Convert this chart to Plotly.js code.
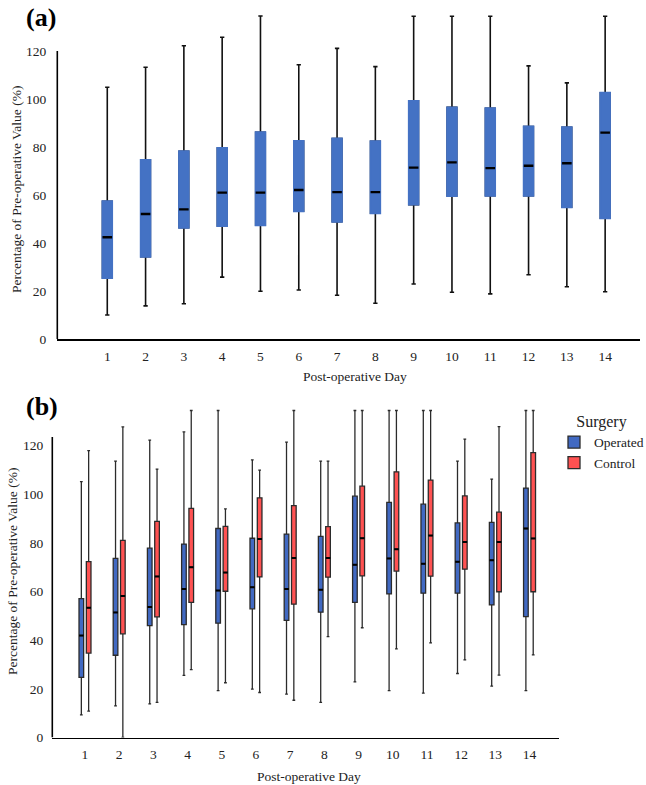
<!DOCTYPE html>
<html>
<head>
<meta charset="utf-8">
<script src="https://cdn.plot.ly/plotly-3.0.1.min.js"></script>
<style>
  html, body { margin: 0; padding: 0; background: #fff; }
  #plot { width: 646px; height: 785px; }
</style>
</head>
<body>
<div id="plot"></div>
<script>
// post-operative days
let arrDays = [1, 2, 3, 4, 5, 6, 7, 8, 9, 10, 11, 12, 13, 14];
let arrDayLabels = ["1", "2", "3", "4", "5", "6", "7", "8", "9", "10", "11", "12", "13", "14"];

// panel (a) - all patients
let arrAllLow  = [10.0, 13.8, 14.7, 25.8, 19.9, 20.4, 18.2, 14.9, 22.9, 19.5, 18.8, 26.8, 21.8, 19.7];
let arrAllQ1   = [25.4, 34.3, 46.4, 47.1, 47.4, 53.2, 48.9, 52.4, 56.0, 59.6, 59.7, 59.7, 54.9, 50.3];
let arrAllMed  = [42.4, 52.1, 54.0, 61.0, 61.0, 62.1, 61.2, 61.2, 71.4, 73.6, 71.2, 72.2, 73.2, 86.0];
let arrAllQ3   = [57.4, 74.6, 78.2, 79.6, 86.1, 82.5, 83.5, 82.4, 99.2, 96.5, 96.1, 88.5, 88.2, 102.6];
let arrAllHigh = [104.9, 113.2, 122.2, 125.7, 134.6, 114.3, 121.1, 113.5, 134.5, 134.5, 134.5, 113.8, 106.7, 134.5];

// panel (b) - operated
let arrOpLow  = [9.3, 13.0, 13.8, 25.5, 19.3, 19.9, 17.8, 14.4, 22.9, 19.3, 18.2, 26.3, 21.1, 19.3];
let arrOpQ1   = [24.7, 33.8, 46.0, 46.4, 47.0, 52.9, 48.1, 51.5, 55.5, 59.0, 59.3, 59.3, 54.5, 49.7];
let arrOpMed  = [41.9, 51.4, 53.6, 61.0, 60.4, 61.8, 61.0, 60.7, 71.0, 73.6, 71.4, 72.2, 72.9, 85.9];
let arrOpQ3   = [57.1, 73.6, 77.8, 79.5, 85.9, 81.9, 83.6, 82.7, 99.2, 96.6, 95.9, 88.2, 88.4, 102.5];
let arrOpHigh = [105.2, 113.6, 122.2, 125.6, 134.4, 114.1, 121.4, 113.6, 134.4, 134.4, 134.4, 113.6, 106.2, 134.4];

// panel (b) - control
let arrCtLow  = [10.8, 0, 14.4, 27.9, 22.5, 18.5, 15.3, 41.5, 45.1, 36.4, 38.9, 31.9, 25.6, 34.0];
let arrCtQ1   = [34.7, 42.6, 49.6, 55.5, 60.1, 66.0, 54.8, 65.9, 66.4, 68.4, 66.3, 69.2, 59.9, 59.9];
let arrCtMed  = [53.3, 58.2, 66.2, 70.0, 67.8, 81.6, 73.8, 73.8, 81.9, 77.4, 83.0, 80.4, 80.4, 81.8];
let arrCtQ3   = [72.3, 81.0, 88.8, 94.2, 86.8, 98.5, 95.3, 86.7, 103.3, 109.2, 105.8, 99.3, 92.6, 117.1];
let arrCtHigh = [117.9, 127.7, 110.3, 134.4, 94.0, 109.9, 134.4, 113.6, 134.4, 134.4, 134.4, 122.6, 127.8, 134.4];

let strFont = "Liberation Serif, Times New Roman, serif";
let W = 646, H = 785;
function px(x) { return x / W; }
function py(y) { return 1 - y / H; }

// a box drawn from precomputed stats
function makeBox(x, lo, q1, med, q3, hi, opts) {
  return Object.assign({
    type: "box",
    x: x,
    lowerfence: lo,
    q1: q1,
    median: med,
    q3: q3,
    upperfence: hi,
    boxpoints: false,
    hoverinfo: "skip",
    showlegend: false
  }, opts);
}

// text placed by its centre, in pixels
function label(text, x, y, size, angle) {
  return {
    text: text, xref: "paper", yref: "paper", x: px(x), y: py(y),
    xanchor: "center", yanchor: "middle", showarrow: false, textangle: angle || 0,
    font: {family: strFont, size: size, color: "#222"}
  };
}

let traces = [];

// (a): whiskers in black, then blue box over it, then black median
traces.push(makeBox(arrDays, arrAllLow, arrAllQ1, arrAllMed, arrAllQ3, arrAllHigh, {
  xaxis: "x", yaxis: "y", width: 0.25, whiskerwidth: 0.45,
  line: {color: "#111", width: 1.6}, fillcolor: "#4472c4"
}));
traces.push(makeBox(arrDays, arrAllQ1, arrAllQ1, arrAllMed, arrAllQ3, arrAllQ3, {
  xaxis: "x", yaxis: "y", width: 0.25, whiskerwidth: 0,
  line: {color: "#4472c4", width: 2}, fillcolor: "#4472c4"
}));
traces.push(makeBox(arrDays, arrAllMed, arrAllMed, arrAllMed, arrAllMed, arrAllMed, {
  xaxis: "x", yaxis: "y", width: 0.25, whiskerwidth: 0,
  line: {color: "#000", width: 2.4}, fillcolor: "rgba(0,0,0,0)"
}));

// (b): operated left of the day, control right of it
let numOff = 0.107, numW = 0.136;
let arrOpX = arrDays.map(d => d - numOff);
let arrCtX = arrDays.map(d => d + numOff);

traces.push(makeBox(arrOpX, arrOpLow, arrOpQ1, arrOpMed, arrOpQ3, arrOpHigh, {
  name: "Operated", showlegend: true, xaxis: "x2", yaxis: "y2", width: numW, whiskerwidth: 0.6,
  line: {color: "#2b2b2b", width: 1.3}, fillcolor: "#4169c2"
}));
traces.push(makeBox(arrCtX, arrCtLow, arrCtQ1, arrCtMed, arrCtQ3, arrCtHigh, {
  name: "Control", showlegend: true, xaxis: "x2", yaxis: "y2", width: numW, whiskerwidth: 0.6,
  line: {color: "#2b2b2b", width: 1.3}, fillcolor: "#ff5252"
}));
traces.push(makeBox(arrOpX, arrOpMed, arrOpMed, arrOpMed, arrOpMed, arrOpMed, {
  xaxis: "x2", yaxis: "y2", width: numW, whiskerwidth: 0,
  line: {color: "#000", width: 2}, fillcolor: "rgba(0,0,0,0)"
}));
traces.push(makeBox(arrCtX, arrCtMed, arrCtMed, arrCtMed, arrCtMed, arrCtMed, {
  xaxis: "x2", yaxis: "y2", width: numW, whiskerwidth: 0,
  line: {color: "#000", width: 2}, fillcolor: "rgba(0,0,0,0)"
}));

let xBase = {
  tickmode: "array", tickvals: arrDays, ticktext: arrDayLabels,
  showgrid: false, zeroline: false, showline: true, linecolor: "#000", linewidth: 1.6,
  ticks: "", tickfont: {family: strFont, size: 13.5, color: "#222"}, ticklabelstandoff: 4
};
let yBase = {
  range: [0, 136], tick0: 0, dtick: 20,
  showgrid: false, zeroline: false, showline: false, ticks: "",
  tickfont: {family: strFont, size: 13.5, color: "#222"}
};

let layout = {
  width: W, height: H,
  // keep the legend from squeezing the plot areas
  margin: {l: 0, r: 0, t: 0, b: 0, autoexpand: false},
  paper_bgcolor: "#fff", plot_bgcolor: "#fff",
  boxmode: "overlay",
  font: {family: strFont, color: "#222"},
  xaxis: Object.assign({}, xBase, {domain: [px(57.3), px(640)], range: [-0.305, 14.91], anchor: "y"}),
  yaxis: Object.assign({}, yBase, {domain: [py(339), py(12.6)], anchor: "x", ticklabelstandoff: 10}),
  xaxis2: Object.assign({}, xBase, {domain: [px(52.3), px(559.3)], range: [0.044, 14.87], anchor: "y2"}),
  yaxis2: Object.assign({}, yBase, {domain: [py(737.5), py(406.6)], anchor: "x2", ticklabelstandoff: 8}),
  showlegend: true,
  legend: {
    x: px(554), y: py(406), xanchor: "left", yanchor: "top",
    font: {family: strFont, size: 13.5, color: "#222"},
    title: {text: "Surgery", side: "top center", font: {family: strFont, size: 16, color: "#222"}},
    bgcolor: "rgba(0,0,0,0)"
  },
  // y axis lines stop near the top label
  shapes: [
    {type: "line", xref: "paper", yref: "y", x0: px(57.3), x1: px(57.3), y0: 0, y1: 120, line: {color: "#000", width: 1.6}},
    {type: "line", xref: "paper", yref: "y2", x0: px(52.3), x1: px(52.3), y0: 0, y1: 123.5, line: {color: "#000", width: 1.6}}
  ],
  annotations: [
    label("<b>(a)</b>", 41, 18, 26),
    label("<b>(b)</b>", 41.5, 406, 26),
    label("Percentage of Pre-operative Value (%)", 17, 190, 13.5, -90),
    label("Percentage of Pre-operative Value (%)", 12, 572, 13.5, -90),
    label("Post-operative Day", 355, 376.5, 13.5),
    label("Post-operative Day", 308.5, 776.5, 13.5)
  ]
};
layout.annotations[0].font.color = "#000";
layout.annotations[1].font.color = "#000";

Plotly.newPlot("plot", traces, layout, {displayModeBar: false, staticPlot: true});
</script>
</body>
</html>
